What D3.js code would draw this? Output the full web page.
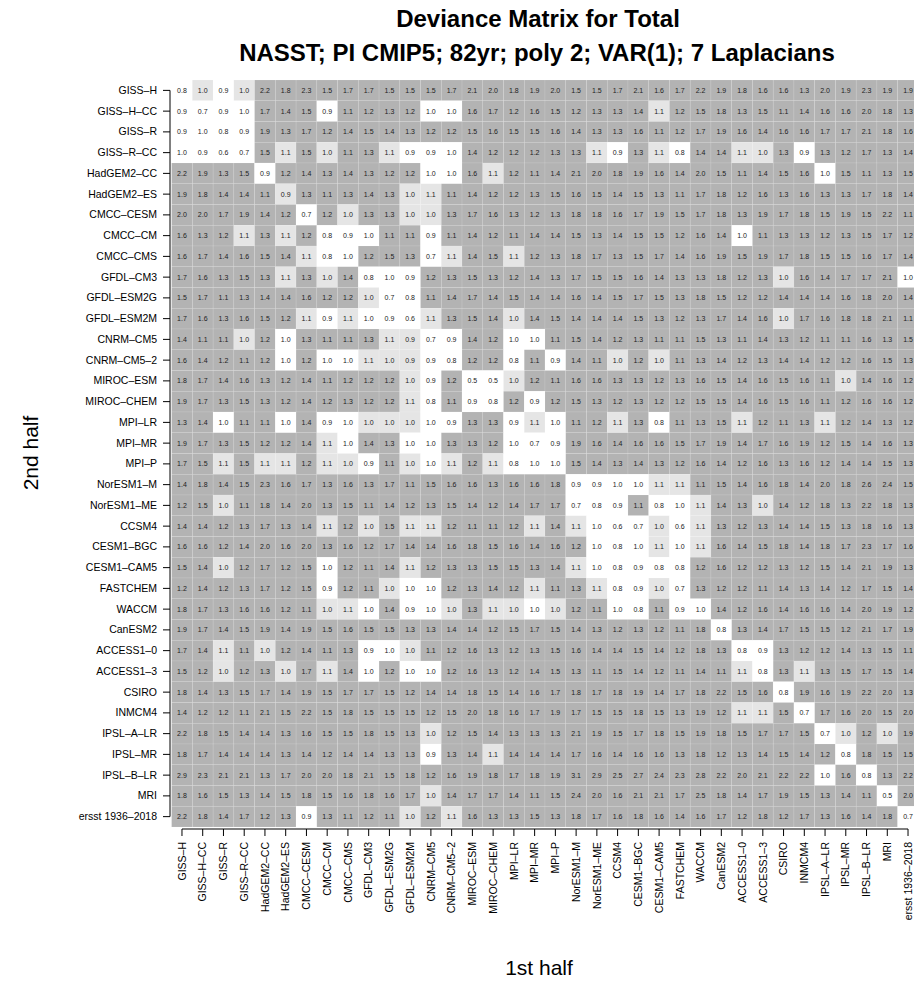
<!DOCTYPE html>
<html>
<head>
<meta charset="utf-8">
<script src="https://cdn.jsdelivr.net/npm/d3@7"></script>
<style>
  html, body { margin: 0; padding: 0; background: #fff; }
  svg { display: block; font-family: "Liberation Sans", Arial, Helvetica, sans-serif; }
</style>
</head>
<body>
<div id="chart"></div>
<script>
// ---------------- DATA ----------------
const titleLines = ["Deviance Matrix for Total", "NASST; PI CMIP5; 82yr; poly 2; VAR(1); 7 Laplacians"];
const xTitle = "1st half";
const yTitle = "2nd half";

const models = ["GISS–H","GISS–H–CC","GISS–R","GISS–R–CC","HadGEM2–CC","HadGEM2–ES","CMCC–CESM","CMCC–CM","CMCC–CMS",
  "GFDL–CM3","GFDL–ESM2G","GFDL–ESM2M","CNRM–CM5","CNRM–CM5–2","MIROC–ESM","MIROC–CHEM","MPI–LR","MPI–MR","MPI–P",
  "NorESM1–M","NorESM1–ME","CCSM4","CESM1–BGC","CESM1–CAM5","FASTCHEM","WACCM","CanESM2","ACCESS1–0","ACCESS1–3",
  "CSIRO","INMCM4","IPSL–A–LR","IPSL–MR","IPSL–B–LR","MRI","ersst 1936–2018"];

// deviance values: rows = 2nd half (top to bottom), columns = 1st half (left to right)
const deviance = [
 [0.8,1.0,0.9,1.0,2.2,1.8,2.3,1.5,1.7,1.7,1.5,1.5, 1.5,1.7,2.1,2.0,1.8,1.9,2.0,1.5,1.5,1.7,2.1,1.6, 1.7,2.2,1.9,1.8,1.6,1.6,1.3,2.0,1.9,2.3,1.9,1.9],
 [0.9,0.7,0.9,1.0,1.7,1.4,1.5,0.9,1.1,1.2,1.3,1.2, 1.0,1.0,1.6,1.7,1.2,1.6,1.5,1.2,1.3,1.3,1.4,1.1, 1.2,1.5,1.8,1.3,1.5,1.1,1.4,1.6,1.6,2.0,1.8,1.3],
 [0.9,1.0,0.8,0.9,1.9,1.3,1.7,1.2,1.4,1.5,1.4,1.3, 1.2,1.2,1.5,1.6,1.5,1.5,1.6,1.4,1.3,1.3,1.6,1.1, 1.2,1.7,1.9,1.6,1.4,1.6,1.6,1.7,1.7,2.1,1.8,1.6],
 [1.0,0.9,0.6,0.7,1.5,1.1,1.5,1.0,1.1,1.3,1.1,0.9, 0.9,1.0,1.4,1.2,1.2,1.2,1.3,1.3,1.1,0.9,1.3,1.1, 0.8,1.4,1.4,1.1,1.0,1.3,0.9,1.3,1.2,1.7,1.3,1.4],
 [2.2,1.9,1.3,1.5,0.9,1.2,1.4,1.3,1.4,1.3,1.2,1.2, 1.0,1.0,1.6,1.1,1.2,1.1,1.4,2.1,2.0,1.8,1.9,1.6, 1.4,2.0,1.5,1.1,1.4,1.5,1.6,1.0,1.5,1.1,1.3,1.5],
 [1.9,1.8,1.4,1.4,1.1,0.9,1.3,1.1,1.3,1.4,1.3,1.0, 1.1,1.1,1.4,1.2,1.2,1.3,1.5,1.6,1.5,1.4,1.5,1.3, 1.1,1.7,1.8,1.2,1.6,1.3,1.6,1.3,1.3,1.7,1.8,1.4],
 [2.0,2.0,1.7,1.9,1.4,1.2,0.7,1.2,1.0,1.3,1.3,1.0, 1.0,1.3,1.7,1.6,1.3,1.2,1.3,1.8,1.8,1.6,1.7,1.9, 1.5,1.7,1.8,1.3,1.9,1.7,1.8,1.5,1.9,1.5,2.2,1.1],
 [1.6,1.3,1.2,1.1,1.3,1.1,1.2,0.8,0.9,1.0,1.1,1.1, 0.9,1.1,1.4,1.2,1.1,1.4,1.4,1.5,1.3,1.4,1.5,1.5, 1.2,1.6,1.4,1.0,1.1,1.3,1.3,1.2,1.3,1.5,1.7,1.2],
 [1.6,1.7,1.4,1.6,1.5,1.4,1.1,0.8,1.0,1.2,1.5,1.3, 0.7,1.1,1.4,1.5,1.1,1.2,1.3,1.8,1.7,1.3,1.5,1.7, 1.4,1.6,1.9,1.5,1.9,1.7,1.8,1.5,1.5,1.6,1.7,1.4],
 [1.7,1.6,1.3,1.5,1.3,1.1,1.3,1.0,1.4,0.8,1.0,0.9, 1.2,1.3,1.5,1.3,1.2,1.4,1.3,1.7,1.5,1.5,1.6,1.4, 1.3,1.3,1.8,1.2,1.3,1.0,1.6,1.4,1.7,1.7,2.1,1.0],
 [1.5,1.7,1.1,1.3,1.4,1.4,1.6,1.2,1.2,1.0,0.7,0.8, 1.1,1.4,1.7,1.4,1.5,1.4,1.4,1.6,1.4,1.5,1.7,1.5, 1.3,1.8,1.5,1.2,1.2,1.4,1.4,1.4,1.6,1.8,2.0,1.4],
 [1.7,1.6,1.3,1.6,1.5,1.2,1.1,0.9,1.1,1.0,0.9,0.6, 1.1,1.3,1.5,1.4,1.0,1.4,1.5,1.4,1.4,1.4,1.5,1.3, 1.2,1.3,1.7,1.4,1.6,1.0,1.7,1.6,1.8,1.8,2.1,1.1],
 [1.4,1.1,1.1,1.0,1.2,1.0,1.3,1.1,1.1,1.3,1.1,0.9, 0.7,0.9,1.4,1.2,1.0,1.0,1.1,1.5,1.4,1.2,1.3,1.1, 1.1,1.5,1.3,1.1,1.4,1.3,1.2,1.1,1.1,1.6,1.3,1.5],
 [1.6,1.4,1.2,1.1,1.2,1.0,1.2,1.0,1.0,1.1,1.0,0.9, 0.9,0.8,1.2,1.2,0.8,1.1,0.9,1.4,1.1,1.0,1.2,1.0, 1.1,1.3,1.4,1.2,1.3,1.4,1.4,1.2,1.2,1.6,1.5,1.3],
 [1.8,1.7,1.4,1.6,1.3,1.2,1.4,1.1,1.2,1.2,1.2,1.0, 0.9,1.2,0.5,0.5,1.0,1.2,1.1,1.6,1.6,1.3,1.3,1.2, 1.3,1.6,1.5,1.4,1.6,1.5,1.6,1.1,1.0,1.4,1.6,1.2],
 [1.9,1.7,1.3,1.5,1.3,1.2,1.4,1.2,1.3,1.2,1.2,1.1, 0.8,1.1,0.9,0.8,1.2,0.9,1.2,1.5,1.3,1.2,1.3,1.2, 1.2,1.5,1.5,1.4,1.6,1.5,1.6,1.1,1.2,1.6,1.6,1.2],
 [1.3,1.4,1.0,1.1,1.1,1.0,1.4,0.9,1.0,1.0,1.0,1.0, 1.0,0.9,1.3,1.3,0.9,1.1,1.0,1.1,1.2,1.1,1.3,0.8, 1.1,1.3,1.5,1.1,1.2,1.1,1.3,1.1,1.2,1.4,1.3,1.2],
 [1.9,1.7,1.3,1.5,1.2,1.2,1.4,1.1,1.0,1.4,1.3,1.0, 1.0,1.3,1.3,1.2,1.0,0.7,0.9,1.9,1.6,1.4,1.6,1.6, 1.5,1.7,1.9,1.4,1.7,1.6,1.9,1.2,1.5,1.4,1.6,1.3],
 [1.7,1.5,1.1,1.5,1.1,1.1,1.2,1.1,1.0,0.9,1.1,1.0, 1.0,1.1,1.2,1.1,0.8,1.0,1.0,1.5,1.4,1.3,1.4,1.3, 1.2,1.6,1.4,1.2,1.6,1.3,1.6,1.2,1.4,1.4,1.5,1.3],
 [1.4,1.8,1.4,1.5,2.3,1.6,1.7,1.3,1.6,1.3,1.7,1.1, 1.5,1.6,1.6,1.3,1.6,1.6,1.8,0.9,0.9,1.0,1.0,1.1, 1.1,1.1,1.5,1.4,1.6,1.8,1.4,2.0,1.8,2.6,2.4,1.5],
 [1.2,1.5,1.0,1.1,1.8,1.4,2.0,1.3,1.5,1.1,1.4,1.2, 1.3,1.5,1.4,1.2,1.4,1.7,1.7,0.7,0.8,0.9,1.1,0.8, 1.0,1.1,1.4,1.3,1.0,1.4,1.2,1.8,1.3,2.2,1.8,1.3],
 [1.4,1.4,1.2,1.3,1.7,1.3,1.4,1.1,1.2,1.0,1.5,1.1, 1.1,1.2,1.1,1.1,1.2,1.1,1.4,1.1,1.0,0.6,0.7,1.0, 0.6,1.1,1.3,1.2,1.3,1.4,1.4,1.5,1.3,1.8,1.6,1.3],
 [1.6,1.6,1.2,1.4,2.0,1.6,2.0,1.3,1.6,1.2,1.7,1.4, 1.4,1.6,1.8,1.5,1.6,1.4,1.6,1.2,1.0,0.8,1.0,1.1, 1.0,1.1,1.6,1.4,1.5,1.8,1.4,1.8,1.7,2.3,1.7,1.6],
 [1.5,1.4,1.0,1.2,1.7,1.2,1.5,1.0,1.2,1.1,1.4,1.1, 1.2,1.3,1.3,1.5,1.5,1.3,1.4,1.1,1.0,0.8,0.9,0.8, 0.8,1.2,1.6,1.2,1.2,1.3,1.2,1.5,1.4,2.1,1.9,1.3],
 [1.2,1.4,1.2,1.3,1.7,1.2,1.5,0.9,1.2,1.1,1.0,1.0, 1.0,1.2,1.3,1.4,1.2,1.1,1.1,1.3,1.1,0.8,0.9,1.0, 0.7,1.3,1.2,1.2,1.1,1.4,1.3,1.4,1.2,1.7,1.5,1.4],
 [1.8,1.7,1.3,1.6,1.6,1.2,1.1,1.0,1.1,1.0,1.4,0.9, 1.0,1.0,1.3,1.1,1.0,1.0,1.0,1.2,1.1,1.0,0.8,1.1, 0.9,1.0,1.4,1.2,1.6,1.4,1.6,1.6,1.4,2.0,1.9,1.2],
 [1.9,1.7,1.4,1.5,1.9,1.4,1.9,1.5,1.6,1.5,1.5,1.3, 1.3,1.4,1.4,1.2,1.5,1.7,1.5,1.4,1.3,1.2,1.3,1.2, 1.1,1.8,0.8,1.3,1.4,1.7,1.5,1.5,1.2,2.1,1.7,1.9],
 [1.7,1.4,1.1,1.1,1.0,1.2,1.4,1.1,1.3,0.9,1.0,1.0, 1.1,1.2,1.6,1.3,1.2,1.3,1.5,1.6,1.4,1.4,1.5,1.4, 1.2,1.8,1.3,0.8,0.9,1.3,1.2,1.2,1.4,1.3,1.5,1.1],
 [1.5,1.2,1.0,1.2,1.3,1.0,1.7,1.1,1.4,1.0,1.2,1.0, 1.0,1.2,1.6,1.3,1.2,1.4,1.5,1.3,1.1,1.5,1.4,1.2, 1.1,1.4,1.1,1.1,0.8,1.3,1.1,1.3,1.5,1.7,1.5,1.4],
 [1.8,1.4,1.3,1.5,1.7,1.4,1.9,1.5,1.7,1.7,1.5,1.2, 1.4,1.4,1.8,1.5,1.4,1.6,1.7,1.8,1.7,1.8,1.9,1.4, 1.7,1.8,2.2,1.5,1.6,0.8,1.9,1.6,1.9,2.2,2.0,1.3],
 [1.4,1.2,1.2,1.1,2.1,1.5,2.2,1.5,1.8,1.5,1.5,1.5, 1.2,1.5,2.0,1.8,1.6,1.7,1.9,1.7,1.5,1.5,1.8,1.5, 1.3,1.9,1.2,1.1,1.1,1.5,0.7,1.7,1.6,2.0,1.5,2.0],
 [2.2,1.8,1.5,1.4,1.4,1.3,1.6,1.5,1.5,1.8,1.5,1.3, 1.0,1.2,1.5,1.4,1.3,1.3,1.3,2.1,1.9,1.5,1.7,1.8, 1.5,1.9,1.8,1.5,1.7,1.7,1.5,0.7,1.0,1.2,1.0,1.9],
 [1.8,1.7,1.4,1.4,1.4,1.3,1.4,1.2,1.4,1.4,1.3,1.3, 0.9,1.3,1.4,1.1,1.4,1.4,1.4,1.7,1.6,1.4,1.6,1.6, 1.3,1.8,1.2,1.3,1.4,1.5,1.4,1.2,0.8,1.8,1.5,1.5],
 [2.9,2.3,2.1,2.1,1.3,1.7,2.0,2.0,1.8,2.1,1.5,1.8, 1.2,1.6,1.9,1.8,1.7,1.8,1.9,3.1,2.9,2.5,2.7,2.4, 2.3,2.8,2.2,2.0,2.1,2.2,2.2,1.0,1.6,0.8,1.3,2.2],
 [1.8,1.6,1.5,1.3,1.4,1.5,1.8,1.5,1.6,1.8,1.6,1.7, 1.0,1.4,1.7,1.7,1.4,1.1,1.5,2.4,2.0,1.6,2.1,2.1, 1.7,2.5,1.8,1.4,1.7,1.9,1.5,1.3,1.4,1.1,0.5,2.0],
 [2.2,1.8,1.4,1.7,1.2,1.3,0.9,1.3,1.1,1.2,1.1,1.0, 1.2,1.1,1.6,1.3,1.3,1.5,1.3,1.8,1.7,1.6,1.8,1.6, 1.4,1.6,1.7,1.2,1.8,1.2,1.7,1.3,1.6,1.4,1.8,0.7]
];

// significance class of each cell: 0 = not significant, 1 = marginal, 2 = significant
const significance = [
 "010122222222"+"222222222222"+"222222222222",
 "000022202222"+"002222222221"+"222222222222",
 "000022222222"+"222222222222"+"222222222222",
 "000021212210"+"002222221021"+"022112022222",
 "222202222222"+"002122222222"+"222222202222",
 "222221222221"+"122222222222"+"222222222222",
 "222222021221"+"122222222222"+"222222222222",
 "222121200022"+"022222222222"+"222022222222",
 "222222100222"+"012212222222"+"222222222222",
 "222221212000"+"222222222222"+"222221222220",
 "222222222100"+"222222222222"+"222222222222",
 "222222101000"+"122212222222"+"222221222222",
 "222120222211"+"002200222222"+"222222222222",
 "222220200111"+"002202022121"+"222222222222",
 "222222222221"+"020012222222"+"222222221222",
 "222222222221"+"020020222222"+"222222222222",
 "220220200111"+"002201022120"+"222122212222",
 "222222210220"+"022200022222"+"222222222222",
 "221211211021"+"012100022222"+"222222222222",
 "222222222222"+"222222200001"+"122222222222",
 "221222222222"+"222222200020"+"012212222222",
 "222222212121"+"122221210001"+"012222222222",
 "222222222222"+"222222220001"+"012222222222",
 "221222202221"+"222222210000"+"022222222222",
 "222222202210"+"022221221001"+"022222222222",
 "222222211020"+"012110122002"+"002222222222",
 "222222222222"+"222222222222"+"220222222222",
 "221212222001"+"222222222222"+"222002222222",
 "221221212020"+"022222222222"+"222102122222",
 "222222222222"+"222222222222"+"222220222222",
 "222222222222"+"222222222222"+"222112022222",
 "222222222222"+"122222222222"+"222222201212",
 "222222222222"+"022122222222"+"222222220222",
 "222222222222"+"222222222222"+"222222202022",
 "222222222222"+"122222222222"+"222222222202",
 "222222022221"+"212222222222"+"222222222220"
];

// ---------------- DRAW ----------------
const W = 914, H = 995;
const fillFor = ["#ffffff", "#e5e5e5", "#b3b3b3"];

const svg = d3.select("#chart").append("svg").attr("width", W).attr("height", H);
svg.append("rect").attr("width", W).attr("height", H).attr("fill", "#fff");

const x = d3.scaleBand().domain(models).range([171.6, 918.4]).paddingInner(0).paddingOuter(0);
const y = d3.scaleBand().domain(models).range([80, 827]).paddingInner(0).paddingOuter(0);

const cells = [];
models.forEach((rm, i) => {
  models.forEach((cm, j) => {
    cells.push({ row: rm, col: cm, v: deviance[i][j], s: +significance[i][j] });
  });
});

const g = svg.append("g");
g.selectAll("rect.cell").data(cells).join("rect")
  .attr("class", "cell")
  .attr("x", d => x(d.col))
  .attr("y", d => y(d.row))
  .attr("width", x.bandwidth())
  .attr("height", y.bandwidth())
  .attr("fill", d => fillFor[d.s])
  .attr("stroke", "#ffffff")
  .attr("stroke-opacity", 0.18)
  .attr("stroke-width", 0.6);

g.selectAll("text.val").data(cells).join("text")
  .attr("class", "val")
  .attr("x", d => x(d.col) + x.bandwidth() / 2)
  .attr("y", d => y(d.row) + y.bandwidth() / 2)
  .attr("dy", "0.35em")
  .attr("text-anchor", "middle")
  .attr("font-size", 7)
  .attr("fill", "#222")
  .text(d => d3.format(".1f")(d.v));

// axes (R style: axis line from first to last tick)
const half = x.bandwidth() / 2;
const yAxis = svg.append("g").attr("transform", "translate(170,0)")
  .call(d3.axisLeft(y).tickSizeInner(7).tickSizeOuter(0).tickPadding(6));
yAxis.select(".domain").attr("d", `M0,${y(models[0]) + half}V${y(models[models.length - 1]) + half}`);
yAxis.selectAll("text").attr("font-size", 10.5).attr("fill", "#000")
  .attr("font-family", "'Liberation Sans', Arial, sans-serif");
yAxis.selectAll("line, path").attr("stroke", "#000");

const xAxis = svg.append("g").attr("transform", "translate(0,829)")
  .call(d3.axisBottom(x).tickSizeInner(7).tickSizeOuter(0).tickPadding(4));
xAxis.select(".domain").attr("d", `M${x(models[0]) + half},0H${x(models[models.length - 1]) + half}`);
xAxis.selectAll("text")
  .attr("font-size", 10.5).attr("fill", "#000")
  .attr("font-family", "'Liberation Sans', Arial, sans-serif")
  .attr("text-anchor", "end")
  .attr("transform", "translate(0,13) rotate(-90)")
  .attr("x", 0).attr("y", 0).attr("dy", "0.35em");
xAxis.selectAll("line, path").attr("stroke", "#000");

// titles
svg.append("text").attr("x", 538).attr("y", 27).attr("text-anchor", "middle")
  .attr("font-size", 24).attr("font-weight", "bold").text(titleLines[0]);
svg.append("text").attr("x", 537).attr("y", 61).attr("text-anchor", "middle")
  .attr("font-size", 24).attr("font-weight", "bold").text(titleLines[1]);

svg.append("text").attr("transform", "translate(38,453) rotate(-90)")
  .attr("text-anchor", "middle").attr("font-size", 21).text(yTitle);
svg.append("text").attr("x", 539).attr("y", 975)
  .attr("text-anchor", "middle").attr("font-size", 21).text(xTitle);
</script>
</body>
</html>
